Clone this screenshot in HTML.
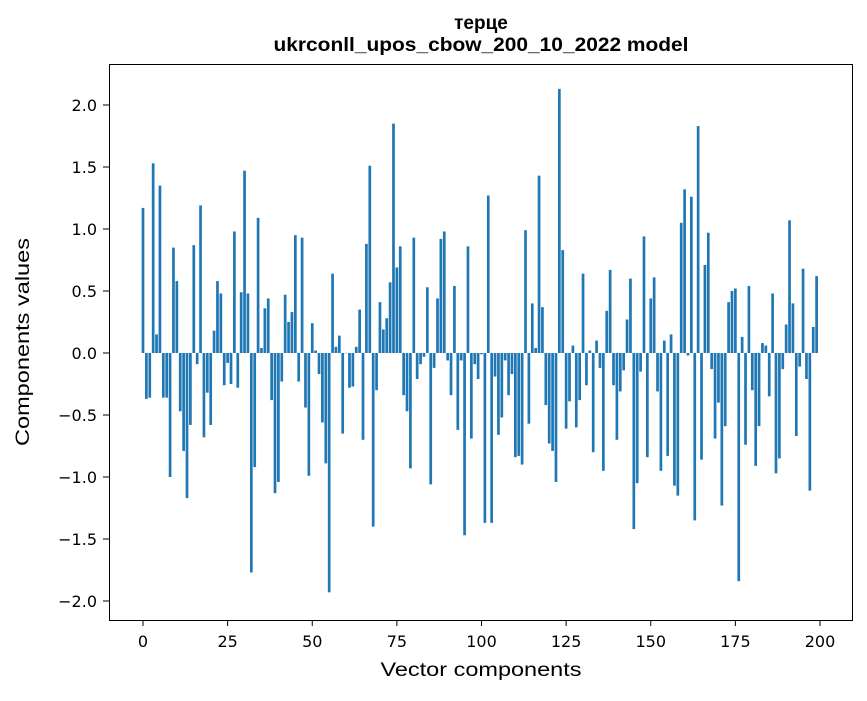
<!DOCTYPE html>
<html><head><meta charset="utf-8"><style>
body{margin:0;background:#fff;font-family:"Liberation Sans","DejaVu Sans",sans-serif;}
svg text{font-family:"DejaVu Sans","Liberation Sans",sans-serif;}
</style></head><body>
<svg id="chart" width="867" height="696" xmlns="http://www.w3.org/2000/svg">
<rect width="867" height="696" fill="#fff"/>
<text x="481" y="29" text-anchor="middle" font-size="19" font-weight="bold" style="font-family:'Liberation Sans',sans-serif">терце</text>
<text x="481" y="51" text-anchor="middle" font-size="19" font-weight="bold" textLength="415" lengthAdjust="spacingAndGlyphs" style="font-family:'Liberation Sans',sans-serif">ukrconll_upos_cbow_200_10_2022 model</text>
<g id="bars"></g>
<g id="xticks"></g>
<g id="yticks"></g>
<rect x="109.5" y="64.5" width="743" height="556" fill="none" stroke="#000" stroke-width="1"/>
<text x="481" y="676" text-anchor="middle" font-size="19" textLength="201" lengthAdjust="spacingAndGlyphs" style="font-family:'Liberation Sans',sans-serif">Vector components</text>
<text transform="translate(29,342) rotate(-90)" text-anchor="middle" font-size="19" textLength="208" lengthAdjust="spacingAndGlyphs" style="font-family:'Liberation Sans',sans-serif">Components values</text>
</svg>
<script>
const values = [1.17,-0.37,-0.36,1.53,0.15,1.35,-0.36,-0.36,-1.0,0.85,
0.58,-0.47,-0.79,-1.17,-0.58,0.87,-0.09,1.19,-0.68,-0.32,
-0.58,0.18,0.58,0.48,-0.26,-0.08,-0.25,0.98,-0.28,0.49,
1.47,0.48,-1.77,-0.92,1.09,0.04,0.36,0.44,-0.38,-1.13,
-1.04,-0.23,0.47,0.25,0.33,0.95,-0.23,0.93,-0.44,-0.99,
0.24,0.02,-0.17,-0.56,-0.89,-1.93,0.64,0.05,0.14,-0.65,
0.0,-0.28,-0.27,0.05,0.35,-0.70,0.88,1.51,-1.40,-0.30,
0.41,0.19,0.28,0.57,1.85,0.69,0.86,-0.34,-0.47,-0.93,
0.93,-0.21,-0.09,-0.03,0.53,-1.06,-0.12,0.44,0.92,0.98,
-0.06,-0.34,0.54,-0.62,-0.06,-1.47,0.86,-0.69,-0.09,-0.21,
-0.01,-1.37,1.27,-1.37,-0.19,-0.66,-0.52,-0.06,-0.34,-0.17,
-0.84,-0.83,-0.90,0.99,-0.57,0.40,0.04,1.43,0.37,-0.42,
-0.73,-0.79,-1.04,2.13,0.83,-0.61,-0.39,0.06,-0.60,-0.38,
0.64,-0.26,0.02,-0.80,0.10,-0.12,-0.95,0.34,0.67,-0.26,
-0.70,-0.31,-0.14,0.27,0.60,-1.42,-1.05,-0.15,0.94,-0.84,
0.44,0.61,-0.31,-0.95,0.10,-0.83,0.15,-1.07,-1.15,1.05,
1.32,-0.02,1.26,-1.35,1.83,-0.86,0.71,0.97,-0.13,-0.69,
-0.40,-1.23,-0.59,0.41,0.50,0.52,-1.84,0.13,-0.74,0.54,
-0.30,-0.91,-0.59,0.08,0.06,-0.35,0.48,-0.97,-0.85,-0.13,
0.23,1.07,0.40,-0.67,-0.11,0.68,-0.21,-1.11,0.21,0.62];
const xTicks = [0,25,50,75,100,125,150,175,200];
const yTicks = [-2.0,-1.5,-1.0,-0.5,0.0,0.5,1.0,1.5,2.0];
const NS='http://www.w3.org/2000/svg';
function xs(v){return 143+(v)*(677/200);}
function ys(v){return 353-v*124;}
const bars=document.getElementById('bars');
const bw=0.8*677/200;
values.forEach((v,i)=>{
  const r=document.createElementNS(NS,'rect');
  
  
  const y0=ys(0),y1=ys(v);
  r.setAttribute('x',xs(i)-bw/2);
  r.setAttribute('y',Math.min(y0,y1));
  r.setAttribute('width',bw);
  r.setAttribute('height',Math.max(Math.abs(y1-y0),0.3));
  r.setAttribute('fill','#1f77b4');
  bars.appendChild(r);
});
const xg=document.getElementById('xticks');
xTicks.forEach(t=>{
  const x=xs(t);
  const l=document.createElementNS(NS,'line');
  
  
  l.setAttribute('x1',x);l.setAttribute('x2',x);l.setAttribute('y1',620);l.setAttribute('y2',626);
  l.setAttribute('stroke','#000');xg.appendChild(l);
  const tx=document.createElementNS(NS,'text');
  
  
  tx.setAttribute('x',x);tx.setAttribute('y',647);tx.setAttribute('text-anchor','middle');tx.setAttribute('font-size','16');
  tx.textContent=t;xg.appendChild(tx);
});
const yg=document.getElementById('yticks');
yTicks.forEach(t=>{
  const y=ys(t);
  const l=document.createElementNS(NS,'line');
  
  
  l.setAttribute('x1',103);l.setAttribute('x2',109);l.setAttribute('y1',y);l.setAttribute('y2',y);
  l.setAttribute('stroke','#000');yg.appendChild(l);
  const tx=document.createElementNS(NS,'text');
  
  
  tx.setAttribute('x',97);tx.setAttribute('y',y+6);tx.setAttribute('text-anchor','end');tx.setAttribute('font-size','16');
  tx.textContent=(t<0?'\u2212':'')+Math.abs(t).toFixed(1);yg.appendChild(tx);
});
</script>
</body></html>
